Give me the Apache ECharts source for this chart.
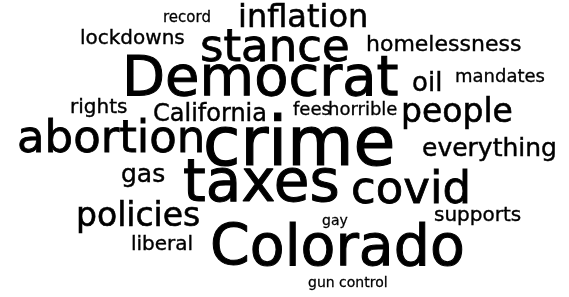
<!DOCTYPE html>
<html>
<head>
<meta charset="utf-8">
<script src="https://cdn.jsdelivr.net/npm/echarts@6/dist/echarts.min.js"></script>
<style>
html, body { margin: 0; padding: 0; background: #fff; }
#cloud { width: 569px; height: 297px; }
</style>
</head>
<body>
<div id="cloud"></div>
<script>
// words and their weights (font size grows with weight)
var words = ['record', 'inflation', 'lockdowns', 'stance', 'homelessness', 'Democrat', 'oil', 'mandates',
	'rights', 'California', 'fees', 'horrible', 'people', 'abortion', 'crime', 'everything', 'gas',
	'taxes', 'covid', 'policies', 'supports', 'gay', 'liberal', 'Colorado', 'gun control'];
var counts = [2, 19, 7, 32, 9, 43, 13, 5,
	7, 11, 5, 5, 20, 32, 55, 12, 12,
	45, 32, 20, 7, 1, 7, 44, 1];

// cloud layout: left edge and baseline of each word
var layoutX = [163, 238, 80, 200, 366, 122, 412, 455,
	70, 153, 293, 328, 401, 17, 203, 422, 121,
	183, 351, 76, 434, 322, 131, 210, 308];
var layoutY = [23, 28, 45, 63, 52, 97, 92, 83,
	114, 122, 116, 116, 123, 154, 168, 157, 183,
	203, 205, 227, 222, 226, 251, 267, 288];

var minSize = 14, maxSize = 68;
var cMin = Math.min.apply(null, counts), cMax = Math.max.apply(null, counts);
function sizeOf(c) {
	return minSize + (c - cMin) / (cMax - cMin) * (maxSize - minSize);
}

var chart = echarts.init(document.getElementById('cloud'));
var pts = [];
for (var i = 0; i < words.length; i++) {
	var fs = sizeOf(counts[i]);
	pts.push({
		name: words[i],
		value: [layoutX[i], layoutY[i], counts[i]],
		label: {
			fontSize: fs,
			color: '#000',
			textBorderColor: '#000',
			textBorderWidth: 0.018 * fs,
			offset: [0, -0.3 * fs]
		}
	});
}

var option = {
	animation: false,
	backgroundColor: '#fff',
	grid: { left: 0, right: 0, top: 0, bottom: 0 },
	xAxis: { type: 'value', min: 0, max: 569, show: false },
	yAxis: { type: 'value', min: 0, max: 297, inverse: true, show: false },
	series: [{
		type: 'scatter',
		symbolSize: 0,
		silent: true,
		itemStyle: { color: '#000', opacity: 1 },
		label: {
			show: true,
			position: [0, 0],
			align: 'left',
			verticalAlign: 'middle',
			color: '#000',
			opacity: 1,
			fontFamily: 'DejaVu Sans',
			formatter: '{b}'
		},
		data: pts
	}]
};
chart.setOption(option);
</script>
</body>
</html>
